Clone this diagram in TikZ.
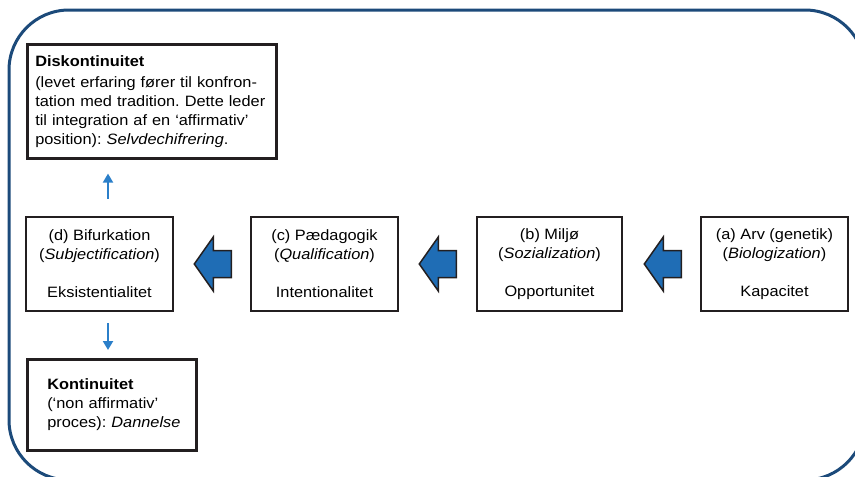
\documentclass[tikz,border=0pt]{standalone}
\usepackage{fontspec}
\setmainfont{Liberation Sans}[FakeStretch=1.09]
\usetikzlibrary{arrows.meta,calc}
\definecolor{framec}{HTML}{1C4A7A}
\definecolor{arrowfill}{HTML}{1F6DB5}
\definecolor{smallc}{HTML}{2B7FC9}
\definecolor{boxc}{HTML}{231F20}
\frenchspacing
\begin{document}
\begin{tikzpicture}[x=1pt,y=-1pt,
  font=\fontsize{15}{19}\selectfont,
  box/.style={draw=boxc, line width=2.6pt, inner sep=0pt, align=center, fill=white},
  stagebox/.style={box, minimum width=147pt, minimum height=94pt},
  smallarrow/.style={draw=smallc, line width=2pt, -{Triangle[width=10pt,length=9pt]}},
  bigarrow/.pic={\draw[fill=arrowfill, draw=boxc, line width=1.5pt, line join=miter]
      (0,0) -- (19,-27) -- (19,-13.5) -- (37,-13.5) -- (37,13.5) -- (19,13.5) -- (19,27) -- cycle;}
]
\useasboundingbox (0,0) rectangle (855,477);
\begin{scope}
  \clip (0,0) rectangle (855,477);
  \draw[framec, line width=3pt, rounded corners=60pt] (9,10) rectangle (865,480);
\end{scope}

\node[box, anchor=north west, minimum height=114pt, text width=233pt, inner xsep=8pt, align=left] (disk) at (26,43)
  {\mbox{\textbf{Diskontinuitet}}\\[2pt]\mbox{(levet erfaring fører til konfron-}\\\mbox{tation med tradition. Dette leder}\\\mbox{til integration af en ‘affirmativ’}\\\mbox{position): \textit{Selvdechifrering}.}};

\node[stagebox] (d) at (99.5,264) {(d) Bifurkation\\(\textit{Subjectification})\\[19pt]Eksistentialitet};
\node[stagebox] (c) at (324.5,264) {(c) Pædagogik\\(\textit{Qualification})\\[19pt]Intentionalitet};
\node[stagebox, minimum width=145pt] (b) at (549.5,264) {(b) Miljø\\(\textit{Sozialization})\\[19pt]Opportunitet};
\node[stagebox] (a) at (774.5,264) {(a) Arv (genetik)\\(\textit{Biologization})\\[19pt]Kapacitet};

\node[box, anchor=north west, minimum height=91pt, text width=129pt, inner xsep=20pt, align=left] (k) at (26,358)
  {\mbox{\textbf{Kontinuitet}}\\\mbox{(‘non affirmativ’}\\\mbox{proces): \textit{Dannelse}}};

\pic at ([xshift=20pt]d.east) {bigarrow};
\pic at ([xshift=20pt]c.east) {bigarrow};
\pic at ([xshift=21pt]b.east) {bigarrow};

\draw[smallarrow, shorten <=17pt, shorten >=14pt] ([xshift=8.5pt]d.north) -- ([xshift=8.5pt]d.north |- disk.south);
\draw[smallarrow, shorten <=11pt, shorten >=8pt] ([xshift=8.5pt]d.south) -- ([xshift=8.5pt]d.south |- k.north);
\end{tikzpicture}
\end{document}
